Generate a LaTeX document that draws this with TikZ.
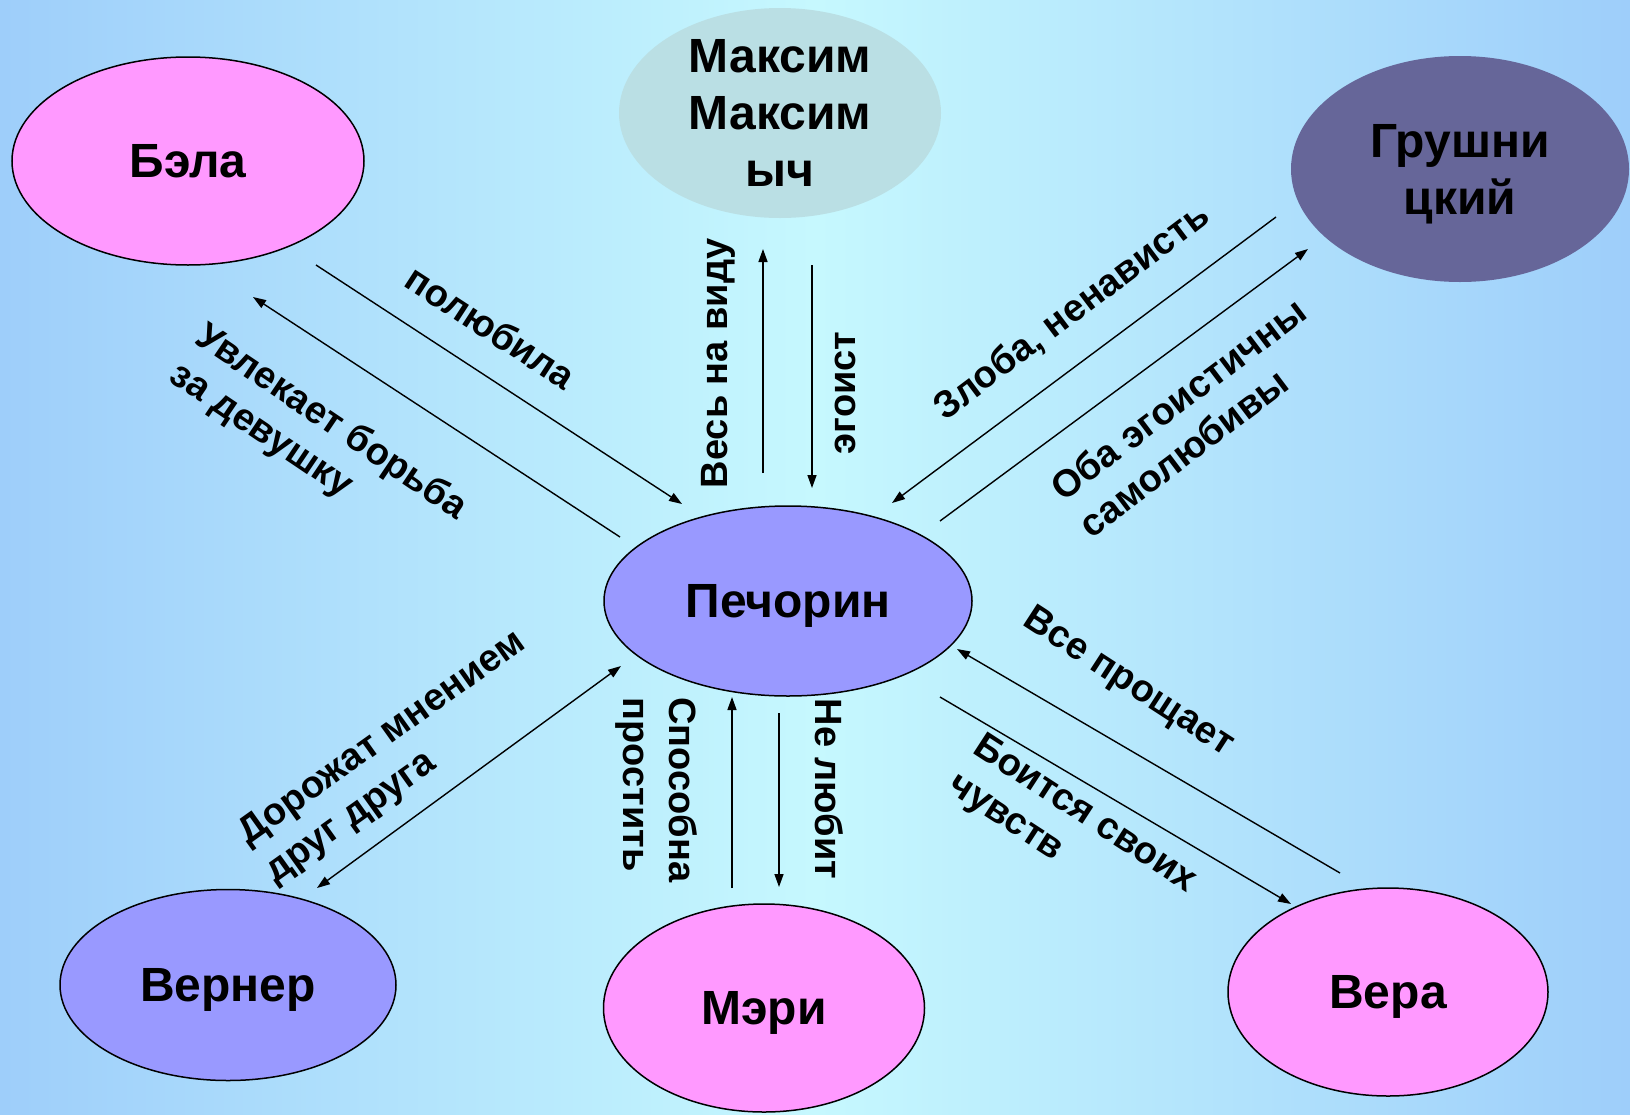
\documentclass[tikz,border=0pt]{standalone}
\usepackage{fontspec}
\setmainfont{Liberation Sans}
\usetikzlibrary{shapes.geometric,arrows.meta}

\definecolor{bgside}{RGB}{158,206,250}
\definecolor{bgmid}{RGB}{198,248,254}
\definecolor{pinkfill}{RGB}{255,153,255}
\definecolor{violetfill}{RGB}{153,153,255}
\definecolor{greyfill}{RGB}{186,223,228}
\definecolor{darkfill}{RGB}{102,102,153}

\begin{document}
\begin{tikzpicture}[x=1pt,y=-1pt,
  person/.style={ellipse, draw=black, line width=1.5pt, align=center,
    font=\fontsize{48}{57}\selectfont\bfseries, inner sep=0pt, text depth=0pt},
  note/.style={align=left, font=\fontsize{38}{46}\selectfont\bfseries, inner sep=0pt},
  arr/.style={line width=1.4pt, -{Triangle[length=13pt,width=9pt]}}]
\useasboundingbox (0,0) rectangle (1630,1114);
\fill[left color=bgside, right color=bgside, middle color=bgmid] (0,0) rectangle (1630,1114);

% characters
\node[person, fill=violetfill, minimum width=368, minimum height=190] (pech) at (788,601) {Печорин};
\node[person, fill=pinkfill, minimum width=352, minimum height=208] (bela) at (188,161) {Бэла};
\node[person, fill=greyfill, draw=none, inner ysep=-12pt, minimum width=322, minimum height=210] (maks) at (780,113) {Максим\\Максим\\ыч};
\node[person, fill=darkfill, draw=none, minimum width=338, minimum height=226] (grush) at (1460,169) {Грушни\\цкий};
\node[person, fill=violetfill, minimum width=336, minimum height=191] (werner) at (228,985) {Вернер};
\node[person, fill=pinkfill, minimum width=321, minimum height=208] (mary) at (764,1008) {Мэри};
\node[person, fill=pinkfill, minimum width=320, minimum height=208] (vera) at (1388,992) {Вера};

% arrow ends
\coordinate (b1) at (316,265);  \coordinate (b2) at (682,504);
\coordinate (b3) at (620,537);  \coordinate (b4) at (253,297);
\coordinate (m1) at (763,473);  \coordinate (m2) at (763,249);
\coordinate (m3) at (812,265);  \coordinate (m4) at (812,488);
\coordinate (g1) at (1276,217); \coordinate (g2) at (892,503);
\coordinate (g3) at (940,521);  \coordinate (g4) at (1308,249);
\coordinate (v1) at (1340,873); \coordinate (v2) at (957,649);
\coordinate (v3) at (940,697);  \coordinate (v4) at (1291,904);
\coordinate (r1) at (732,888);  \coordinate (r2) at (732,697);
\coordinate (r3) at (779,713);  \coordinate (r4) at (779,887);
\coordinate (w1) at (621,666);  \coordinate (w2) at (317,888);

\foreach \s/\t in {b1/b2, b3/b4, m1/m2, m3/m4, g1/g2, g3/g4, v1/v2, v3/v4, r1/r2, r3/r4}
    \draw[arr] (\s) -- (\t);
\draw[arr, {Triangle[length=13pt,width=9pt]}-{Triangle[length=13pt,width=9pt]}] (w1) -- (w2);

% labels
\node[note, rotate=-33] (lbove) at (491,327) {полюбила};
\node[note, rotate=-34] (lbfight) at (318,442) {Увлекает борьба\\за девушку};
\node[note, rotate=90] (lmopen) at (718,363) {Весь на виду};
\node[note, rotate=90] (lmego) at (845,393) {эгоист};
\node[note, rotate=37] (lghate) at (1072,312) {Злоба, ненависть};
\node[note, rotate=37] (lgboth) at (1192,417) {Оба эгоистичны\\самолюбивы};
\node[note, rotate=-33] (lvall) at (1128,683) {Все прощает};
\node[note, rotate=-33] (lvfear) at (1072,834) {Боится своих\\чувств};
\node[note, rotate=35.5] (lwvalue) at (396,758) {Дорожат мнением\\друг друга};
\node[note, rotate=-90] (lrable) at (656,790) {Способна\\простить};
\node[note, rotate=-90] (lrnot) at (829,789) {Не любит};
\end{tikzpicture}
\end{document}
